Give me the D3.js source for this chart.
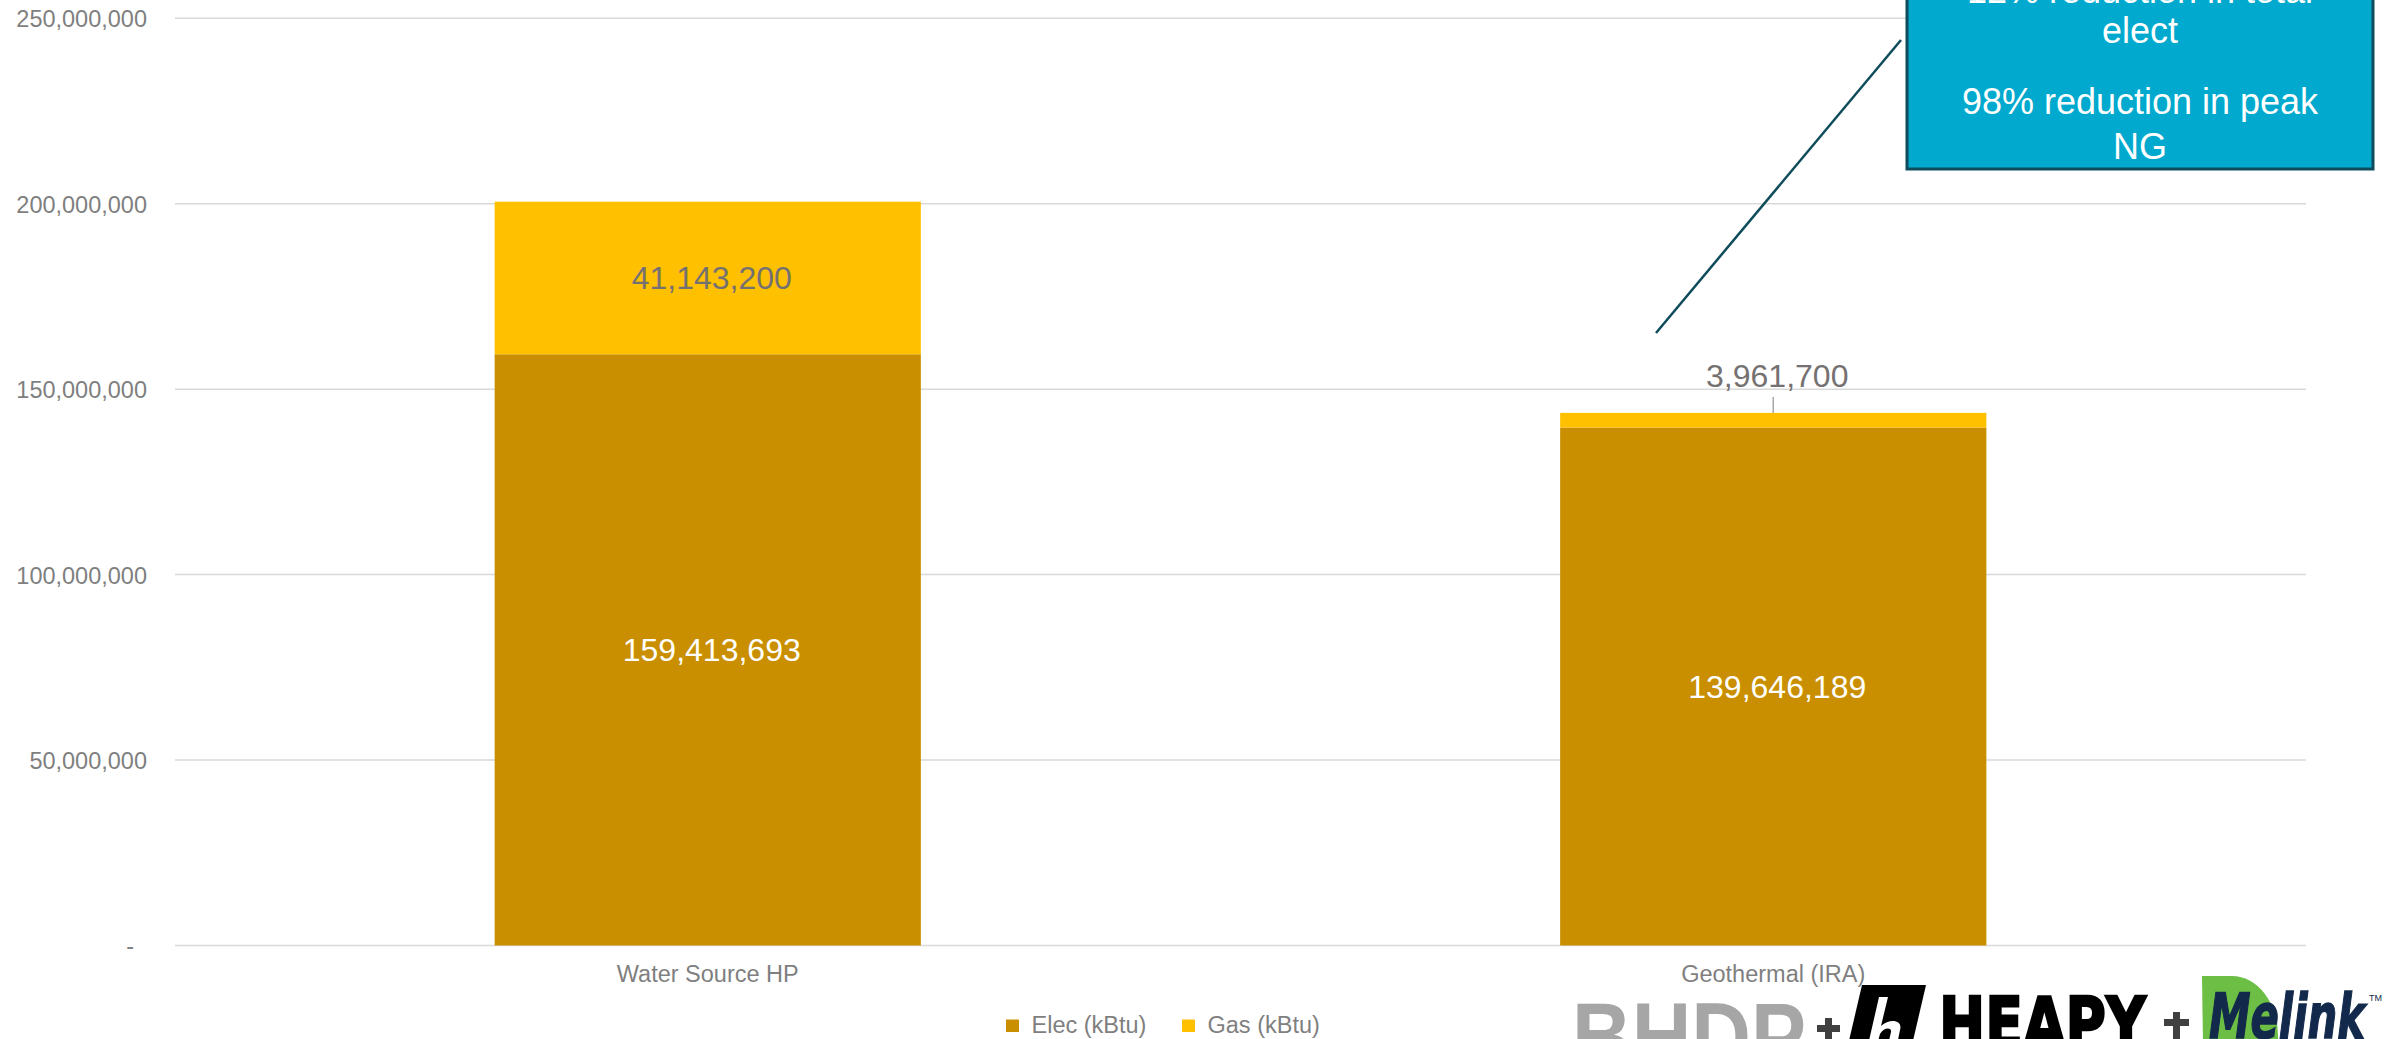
<!DOCTYPE html>
<html>
<head>
<meta charset="utf-8">
<script src="https://cdn.jsdelivr.net/npm/d3@7"></script>
<style>
  html, body { margin: 0; padding: 0; background: #ffffff; }
  svg { display: block; font-family: "Liberation Sans", Arial, sans-serif; }
</style>
</head>
<body>
<svg id="chart" width="2384" height="1039"></svg>
<script>
// Annual site energy by system type, stacked electricity + natural gas
const categories = ["Water Source HP", "Geothermal (IRA)"];
const seriesNames = ["Elec (kBtu)", "Gas (kBtu)"];
const elecValues = [159413693, 139646189];
const gasValues = [41143200, 3961700];
const yTicks = [0, 50000000, 100000000, 150000000, 200000000, 250000000];
const calloutLines = ["12% reduction in total", "elect", "98% reduction in peak", "NG"];

const colors = { elec: "#C98F00", gas: "#FFC000" };
const W = 2384, H = 1039;
const svg = d3.select("#chart");
svg.append("rect").attr("width", W).attr("height", H).attr("fill", "#fff");

const plot = { left: 175, right: 2306, top: 18.3, bottom: 945.5 };

const x = d3.scaleBand()
  .domain(categories)
  .range([plot.left, plot.right])
  .paddingInner(0.6)
  .paddingOuter(0.3);

const y = d3.scaleLinear()
  .domain([0, 250000000])
  .range([plot.bottom, plot.top]);

// gridlines
svg.append("g")
  .selectAll("line")
  .data(yTicks)
  .join("line")
  .attr("x1", plot.left).attr("x2", plot.right)
  .attr("y1", d => y(d)).attr("y2", d => y(d))
  .attr("stroke", "#D9D9D9").attr("stroke-width", 1.5);

// y axis labels
const yAxis = d3.axisLeft(y)
  .tickValues(yTicks)
  .tickSize(0)
  .tickPadding(0)
  .tickFormat(d => d === 0 ? "-" : d3.format(",")(d));
const gy = svg.append("g").attr("transform", "translate(147,0)").call(yAxis);
gy.select(".domain").remove();
gy.selectAll("text")
  .attr("font-size", 23.5)
  .attr("fill", "#7F7F7F")
  .attr("font-family", "Liberation Sans, Arial, sans-serif")
  .attr("dy", "0.36em")
  .attr("x", d => d === 0 ? -13 : 0);

// stacked data
const rows = categories.map((c, i) => ({ cat: c, elec: elecValues[i], gas: gasValues[i] }));
const stack = d3.stack().keys(["elec", "gas"]);
const layers = stack(rows);

const gBars = svg.append("g");
layers.forEach(layer => {
  gBars.append("g")
    .selectAll("rect")
    .data(layer)
    .join("rect")
    .attr("x", d => x(d.data.cat))
    .attr("width", x.bandwidth())
    .attr("y", d => y(d[1]))
    .attr("height", d => y(d[0]) - y(d[1]))
    .attr("fill", colors[layer.key]);
});

// value labels
const fmt = d3.format(",");
const elecLayer = layers[0], gasLayer = layers[1];
svg.append("g").selectAll("text")
  .data(elecLayer)
  .join("text")
  .attr("x", d => x(d.data.cat) + x.bandwidth() / 2 + 4)
  .attr("y", d => (y(d[0]) + y(d[1])) / 2)
  .attr("dy", "0.36em")
  .attr("text-anchor", "middle")
  .attr("font-size", 32)
  .attr("fill", "#ffffff")
  .text(d => fmt(d.data.elec));

gasLayer.forEach((d, i) => {
  const cx = x(d.data.cat) + x.bandwidth() / 2;
  const segH = y(d[0]) - y(d[1]);
  if (segH > 40) {
    svg.append("text")
      .attr("x", cx + 4)
      .attr("y", (y(d[0]) + y(d[1])) / 2)
      .attr("dy", "0.36em")
      .attr("text-anchor", "middle")
      .attr("font-size", 32)
      .attr("fill", "#767171")
      .text(fmt(d.data.gas));
  } else {
    const top = y(d[1]);
    svg.append("line")
      .attr("x1", cx).attr("x2", cx)
      .attr("y1", top - 16).attr("y2", top)
      .attr("stroke", "#A6A6A6").attr("stroke-width", 1.5);
    svg.append("text")
      .attr("x", cx + 4)
      .attr("y", top - 26)
      .attr("text-anchor", "middle")
      .attr("font-size", 32)
      .attr("fill", "#767171")
      .text(fmt(d.data.gas));
  }
});

// category labels
svg.append("g").selectAll("text")
  .data(categories)
  .join("text")
  .attr("x", d => x(d) + x.bandwidth() / 2)
  .attr("y", 982)
  .attr("text-anchor", "middle")
  .attr("font-size", 23.5)
  .attr("fill", "#7F7F7F")
  .text(d => d);

// legend
const legend = svg.append("g");
const legendPos = [1006, 1182];
seriesNames.forEach((name, i) => {
  legend.append("rect")
    .attr("x", legendPos[i]).attr("y", 1019.5)
    .attr("width", 13).attr("height", 12.5)
    .attr("fill", i === 0 ? colors.elec : colors.gas);
  legend.append("text")
    .attr("x", legendPos[i] + 25.5).attr("y", 1033)
    .attr("font-size", 23.5)
    .attr("fill", "#7F7F7F")
    .text(name);
});

// callout with pointer
svg.append("line")
  .attr("x1", 1656).attr("y1", 333)
  .attr("x2", 1901).attr("y2", 40)
  .attr("stroke", "#0E4C5C").attr("stroke-width", 2.5);
svg.append("rect")
  .attr("x", 1907).attr("y", -120)
  .attr("width", 466).attr("height", 289)
  .attr("fill", "#00A9CD")
  .attr("stroke", "#0E4C5C").attr("stroke-width", 3);
const calloutY = [3, 43, 114, 159];
svg.append("g").selectAll("text")
  .data(calloutLines)
  .join("text")
  .attr("x", 2140)
  .attr("y", (d, i) => calloutY[i])
  .attr("text-anchor", "middle")
  .attr("font-size", 36)
  .attr("fill", "#ffffff")
  .text(d => d);

// partner logos along the bottom edge
const logos = svg.append("g");
logos.append("text")
  .attr("x", 1572).attr("y", 1070)
  .attr("font-size", 96).attr("font-weight", "bold")
  .attr("font-family", "Liberation Sans, Arial, sans-serif")
  .attr("fill", "#A6A6A6")
  .attr("textLength", 234).attr("lengthAdjust", "spacingAndGlyphs")
  .text("BHDP");
// plus signs
[[1817, 1018, 1840], [2164, 1012, 2189]].forEach(([x0, t, x1]) => {
  const cx = (x0 + x1) / 2;
  logos.append("rect").attr("x", cx - 3.5).attr("y", t).attr("width", 7).attr("height", 40).attr("fill", "#404040");
  logos.append("rect").attr("x", x0).attr("y", t + 7).attr("width", x1 - x0).attr("height", 7).attr("fill", "#404040");
});
// Heapy mark: slanted black block with a white "b" stroke
logos.append("path")
  .attr("d", "M1862,985 L1926,985 L1912,1045 L1848,1045 Z")
  .attr("fill", "#000");
logos.append("path")
  .attr("d", "M1879,997 L1888,997 L1881,1026 C1890,1018 1903,1020 1900,1030 L1897,1045 L1888,1045 L1891,1032 C1892,1027 1884,1027 1880,1034 L1877,1045 L1868,1045 Z")
  .attr("fill", "#fff");
logos.append("text")
  .attr("x", 1939).attr("y", 1048)
  .attr("font-size", 72).attr("font-weight", "bold")
  .attr("font-family", "DejaVu Sans, sans-serif")
  .attr("fill", "#000")
  .attr("stroke", "#000").attr("stroke-width", 2.5)
  .attr("textLength", 207).attr("lengthAdjust", "spacingAndGlyphs")
  .text("HEAPY");
// Melink mark
logos.append("path")
  .attr("d", "M2203,1045 L2202,976 L2232,976 A46,60 0 0 1 2278,1036 L2278,1045 Z")
  .attr("fill", "#6CBE45");
logos.append("text")
  .attr("x", 2209).attr("y", 1038)
  .attr("font-size", 62).attr("font-weight", "bold").attr("font-style", "italic")
  .attr("font-family", "DejaVu Sans, sans-serif")
  .attr("fill", "#13294B")
  .attr("stroke", "#13294B").attr("stroke-width", 1.5)
  .attr("textLength", 156).attr("lengthAdjust", "spacingAndGlyphs")
  .text("Melink");
logos.append("text")
  .attr("x", 2369).attr("y", 1001)
  .attr("font-size", 9)
  .attr("fill", "#13294B")
  .text("TM");
</script>
</body>
</html>
